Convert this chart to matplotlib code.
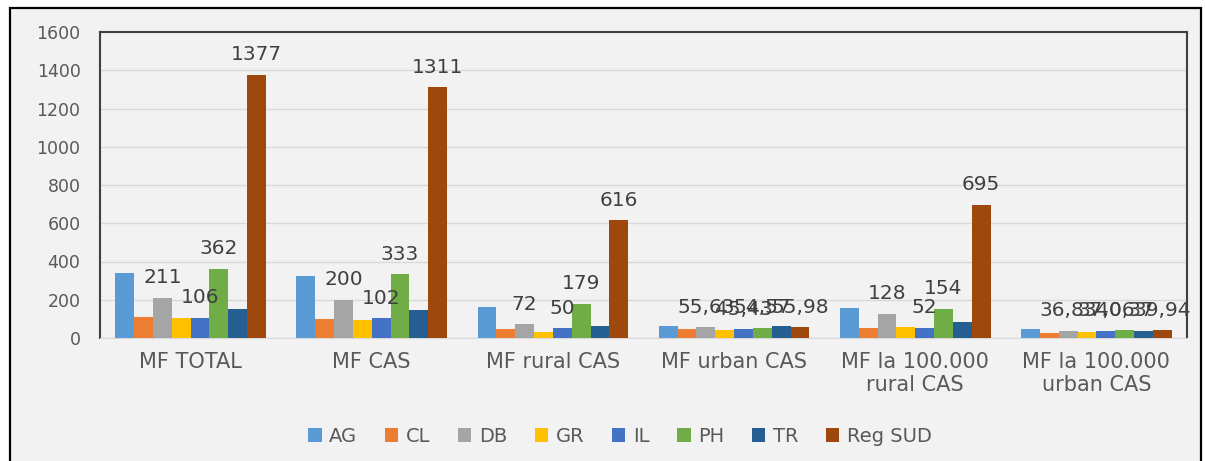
import matplotlib.pyplot as plt
import numpy as np
from matplotlib.patches import Rectangle

categories = ["MF TOTAL", "MF CAS", "MF rural CAS", "MF urban CAS",
              "MF la 100.000\nrural CAS", "MF la 100.000\nurban CAS"]
series_names = ["AG", "CL", "DB", "GR", "IL", "PH", "TR", "Reg SUD"]
ag = [338, 324, 162, 61, 159, 45]
cl = [110, 101, 49, 46, 52, 26]
db = [211, 200, 72, 55.63, 128, 36.83]
gr = [103, 96, 31, 42, 57, 30]
il = [106, 102, 50, 45.43, 52, 37.06]
ph = [362, 333, 179, 54.57, 154, 40.37]
tr = [150, 148, 64, 63, 83, 36]
reg_sud = [1377, 1311, 616, 55.98, 695, 39.94]
colors = ["#5B9BD5", "#ED7D31", "#A5A5A5", "#FFC000",
          "#4472C4", "#70AD47", "#255E91", "#9E480E"]
labelled = ["DB", "IL", "PH", "Reg SUD"]  # only these series carry data labels

series = [ag, cl, db, gr, il, ph, tr, reg_sud]


def fmt(v):
    if float(v).is_integer():
        return str(int(v))
    return f"{v:.2f}".replace(".", ",")


fig = plt.figure(figsize=(12.05, 4.61), dpi=100)
fig.patch.set_facecolor("white")
# chart area background + outer black frame (behind the axes)
fig.patches.append(Rectangle((10 / 1205, -0.05), 1191 / 1205, 1.05 - 8 / 461,
                             transform=fig.transFigure, facecolor="#F2F2F2",
                             edgecolor="black", linewidth=1.6, zorder=-5))

ax = fig.add_axes([100 / 1205, 1 - 338 / 461, 1087 / 1205, 306 / 461])
ax.set_facecolor("#F2F2F2")

x = np.arange(len(categories))
w = 0.104
for i, (name, vals, c) in enumerate(zip(series_names, series, colors)):
    pos = x + (i - 3.5) * w
    ax.bar(pos, vals, width=w, color=c, label=name, zorder=3)
    if name in labelled:
        for px, v in zip(pos, vals):
            ax.annotate(fmt(v), (px, v), xytext=(0, 10.5), textcoords="offset points",
                        ha="center", va="baseline", fontsize=14.5, color="#404040",
                        zorder=4)

ax.set_xlim(-0.5, len(categories) - 0.5)
ax.set_ylim(0, 1600)
ax.set_yticks(range(0, 1601, 200))
ax.set_xticks(x)
ax.set_xticklabels(categories, fontsize=15, color="#595959", linespacing=1.2)
ax.tick_params(axis="y", length=0, pad=14, labelsize=12.5, labelcolor="#595959")
ax.tick_params(axis="x", length=0, pad=10)
ax.grid(axis="y", color="#D9D9D9", linewidth=1, zorder=0)

for s in ["top", "left", "right"]:
    ax.spines[s].set_color("#404040")
    ax.spines[s].set_linewidth(1.5)
ax.spines["bottom"].set_color("#D9D9D9")

ax.legend(loc="center", bbox_to_anchor=(620 / 1205, 1 - 436 / 461),
          bbox_transform=fig.transFigure, ncol=8, frameon=False,
          fontsize=14, labelcolor="#595959", handlelength=0.7, handleheight=0.7,
          handletextpad=0.4, columnspacing=1.4)

plt.savefig("out.png", dpi=100, facecolor=fig.get_facecolor())
plt.close()
